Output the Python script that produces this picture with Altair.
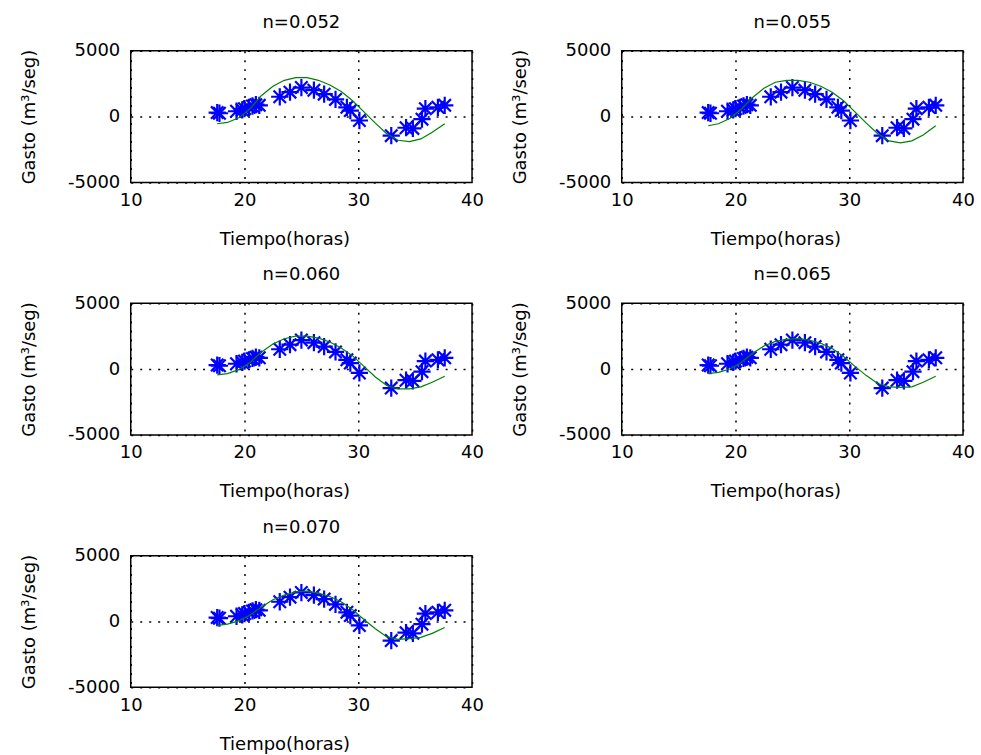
import altair as alt
import pandas as pd

# Observed discharge (blue asterisks), same in every panel
obs_t = [17.6, 17.8, 19.3, 19.8, 20.0, 20.4, 20.7, 21.0, 21.3, 23.1, 24.0, 25.0,
         26.1, 27.0, 28.0, 29.0, 29.3, 30.1, 32.9, 34.2, 34.8, 35.6, 35.9, 37.0, 37.6]
obs_q = [300, 250, 400, 500, 600, 700, 800, 900, 850, 1500, 1850, 2200,
         2000, 1700, 1300, 700, 450, -300, -1450, -850, -900, -200, 600, 700, 850]

# Model discharge (green line) for each Manning n
model_t = [17.6, 18.5, 19.5, 20.5, 21.5, 22.5, 23.5, 24.5, 25.5, 26.5, 27.5,
           28.5, 29.5, 30.5, 31.5, 32.5, 33.5, 34.5, 35.5, 36.5, 37.6]
model_052 = [-550, -450, -100, 600, 1600, 2300, 2750, 2950, 2950, 2750, 2400,
             1900, 1200, 350, -500, -1300, -1800, -1900, -1700, -1200, -550]
model_055 = [-700, -550, -150, 550, 1450, 2150, 2600, 2750, 2750, 2600, 2300,
             1850, 1200, 350, -500, -1300, -1850, -2000, -1850, -1400, -700]
model_060 = [-450, -350, -50, 500, 1300, 1900, 2300, 2500, 2500, 2350, 2050,
             1600, 1000, 200, -600, -1250, -1500, -1500, -1350, -1000, -550]
model_065 = [-350, -250, 0, 500, 1200, 1750, 2100, 2250, 2300, 2200, 1950,
             1550, 950, 200, -500, -1100, -1350, -1400, -1350, -1000, -550]
model_070 = [-300, -200, 50, 500, 1100, 1650, 2000, 2250, 2300, 2150, 1900,
             1500, 900, 150, -550, -1150, -1350, -1300, -1200, -900, -450]

titles = ["n=0.052", "n=0.055", "n=0.060", "n=0.065", "n=0.070"]
models = [model_052, model_055, model_060, model_065, model_070]

x_ticks = [10, 20, 30, 40]
y_ticks = [-5000, 0, 5000]

FONT = "DejaVu Sans"
FS = 18
ASTERISK = "M-1,0L1,0M0,-1L0,1M-0.72,-0.72L0.72,0.72M-0.72,0.72L0.72,-0.72"


def panel(title, q):
    obs = pd.DataFrame({"t": obs_t, "q": obs_q})
    mod = pd.DataFrame({"t": model_t, "q": q})
    x = alt.X("t:Q", scale=alt.Scale(domain=[10, 40], nice=False, zero=False),
              axis=alt.Axis(values=x_ticks, title="Tiempo(horas)", grid=True,
                            labelExpr="'' + datum.value",
                            labelFlush=False, labelOverlap=False, labelPadding=9,
                            titleX=154, titleY=62, titleAlign="center",
                            titleBaseline="alphabetic"))
    y = alt.Y("q:Q", scale=alt.Scale(domain=[-5000, 5000], nice=False, zero=False),
              axis=alt.Axis(values=y_ticks, title="Gasto (m³/seg)", grid=True,
                            labelExpr="'' + datum.value",
                            labelFlush=False, labelOverlap=False, labelPadding=11,
                            titleX=-96, titleY=66, titleAngle=-90,
                            titleBaseline="alphabetic", titleAlign="center"))
    pts = alt.Chart(obs).mark_point(shape=ASTERISK, filled=False, color="#0000ff",
                                    size=300, strokeWidth=2.2, opacity=1).encode(x=x, y=y)
    line = alt.Chart(mod).mark_line(color="#008000", strokeWidth=1.2).encode(x=x, y=y)
    return alt.layer(pts, line).properties(
        width=342, height=132,
        title=alt.TitleParams(title, offset=10))


panels = [panel(t, m) for t, m in zip(titles, models)]

chart = alt.concat(*panels, columns=2, spacing={"row": 121, "column": 150},
                   bounds="flush").configure_axis(
    labelFont=FONT, labelFontSize=FS, titleFont=FONT, titleFontSize=FS,
    titleFontWeight="normal", labelColor="black", titleColor="black",
    domain=False, ticks=False, tickSize=0,
    gridColor="black", gridDash=[2, 7], gridWidth=1.5, gridOpacity=1,
).configure_view(stroke="black", strokeWidth=1.5).configure_title(
    font=FONT, fontSize=FS, fontWeight="normal", color="black", anchor="middle"
).properties(background="white", padding={"left": 20, "top": 12, "right": 5, "bottom": 0})

chart.save("out.html", embed_options={"renderer": "svg", "actions": False})
